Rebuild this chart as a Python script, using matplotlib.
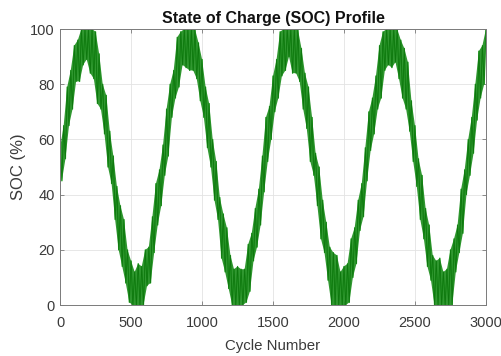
import numpy as np
import matplotlib
matplotlib.use("Agg")
import matplotlib.pyplot as plt

# SOC trace: upper and lower excursions of the noisy signal, every 25 cycles
# (upper values at 0, 25, ..., 3000; lower values half a step later)
soc_upper = [
    57, 65, 79, 85, 94, 96, 100, 100, 100, 100, 99, 91, 80, 76, 63, 54, 43, 36, 31, 20,
    16, 12, 15, 14, 20, 21, 32, 44, 49, 58, 71, 80, 85, 97, 99, 100, 100, 100, 100, 95,
    89, 79, 73, 60, 52, 39, 33, 28, 18, 13, 14, 13, 13, 22, 26, 35, 42, 54, 68, 72,
    83, 89, 99, 100, 100, 100, 100, 100, 93, 84, 79, 68, 55, 50, 38, 30, 21, 19, 18, 12,
    14, 15, 24, 28, 38, 44, 57, 70, 75, 83, 94, 99, 100, 100, 100, 100, 96, 93, 88, 74,
    65, 53, 47, 35, 29, 18, 16, 17, 12, 13, 20, 24, 29, 42, 49, 60, 68, 80, 92, 94,
    100,
]
soc_lower = [
    45, 53, 65, 71, 81, 81, 87, 89, 84, 82, 73, 71, 62, 50, 44, 31, 20, 14, 8, 1,
    0, 0, 0, 0, 7, 8, 19, 29, 36, 47, 54, 68, 75, 79, 87, 86, 85, 85, 82, 74,
    68, 57, 50, 38, 31, 17, 12, 6, 0, 0, 0, 0, 1, 5, 16, 21, 29, 41, 52, 60,
    70, 75, 83, 85, 90, 84, 84, 81, 71, 64, 52, 47, 36, 24, 19, 9, 0, 0, 0, 0,
    0, 1, 10, 15, 27, 32, 45, 56, 62, 71, 75, 85, 87, 86, 88, 82, 75, 71, 63, 52,
    43, 31, 24, 14, 9, 0, 0, 0, 0, 0, 0, 12, 19, 26, 40, 47, 55, 67, 75, 80,
]
cycle_step = 25
x_ticks = [0, 500, 1000, 1500, 2000, 2500, 3000]
y_ticks = [0, 20, 40, 60, 80, 100]

# interleave upper/lower excursions into one continuous trace
cyc_up = np.arange(len(soc_upper)) * cycle_step
cyc_lo = np.arange(len(soc_lower)) * cycle_step + cycle_step / 2
cycles = np.empty(len(cyc_up) + len(cyc_lo))
soc = np.empty_like(cycles)
cycles[0::2], soc[0::2] = cyc_up, soc_upper
cycles[1::2], soc[1::2] = cyc_lo, soc_lower

plt.rcParams["font.family"] = ["Liberation Sans", "DejaVu Sans"]

fig = plt.figure(figsize=(5.01, 3.56), dpi=100)
ax = fig.add_axes([0.12, 0.143, 0.85, 0.7755])

# noisy trace: bright fringe, dense body of the band, dark strokes on top
ax.plot(cycles, soc, color="#3cbf3c", lw=0.9, zorder=2)
ax.fill(np.r_[cyc_up, cyc_lo[::-1]], np.r_[soc_upper, soc_lower[::-1]],
        color="#1a8c1a", alpha=0.9, lw=0, zorder=3)
ax.plot(cycles, soc, color="#0b700b", lw=0.55, alpha=0.8, zorder=4)

ax.set_xlim(0, 3000)
ax.set_ylim(0, 100)
ax.set_xticks(x_ticks)
ax.set_yticks(y_ticks)
ax.grid(True, color="#e3e3e3", lw=0.6)
ax.set_axisbelow(True)

for s in ax.spines.values():
    s.set_color("#7a7a7a")
    s.set_linewidth(0.7)
    s.set_zorder(5)
ax.tick_params(direction="in", length=3, width=0.6, color="#7a7a7a",
               top=True, right=True, labelsize=10.5, labelcolor="#3a3a3a")
ax.tick_params(axis="x", pad=8)
ax.tick_params(axis="y", pad=4)

ax.set_title("State of Charge (SOC) Profile", fontsize=11.5, fontweight="bold",
             color="#111111", pad=4)
ax.set_xlabel("Cycle Number", fontsize=10.8, color="#3a3a3a", labelpad=6)
ax.set_ylabel("SOC (%)", fontsize=12, color="#3a3a3a", labelpad=3)

fig.savefig("out.png", dpi=100, facecolor="white")
